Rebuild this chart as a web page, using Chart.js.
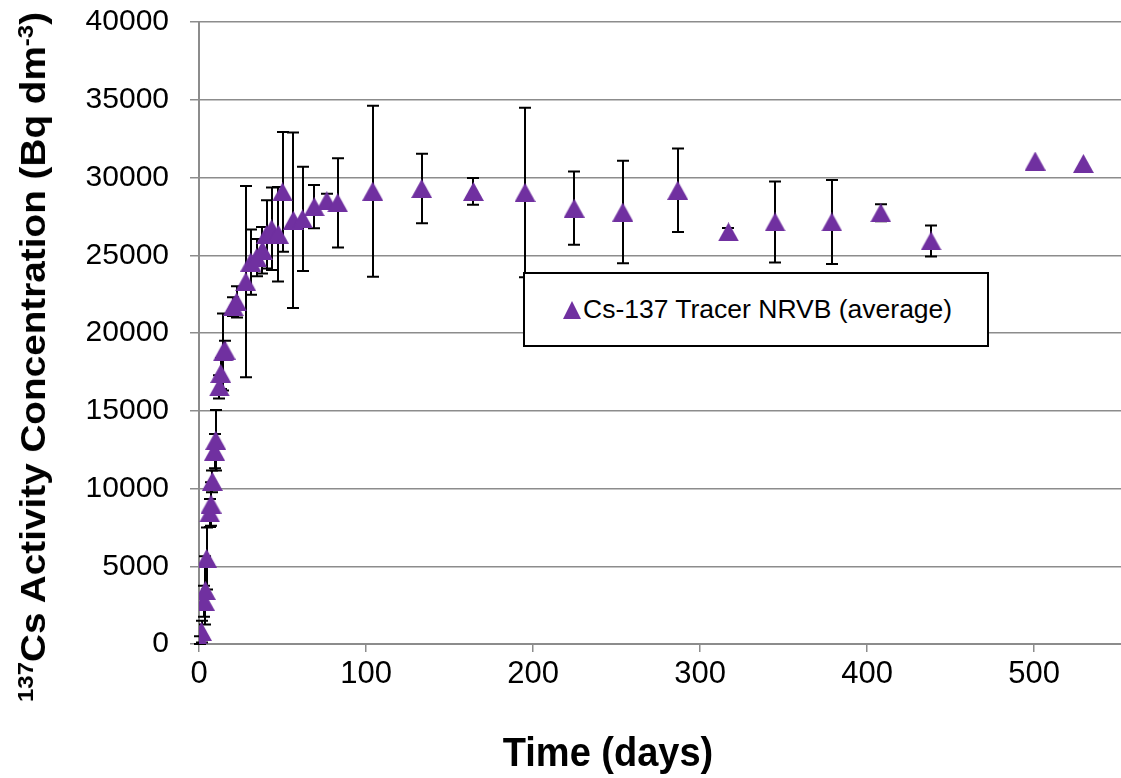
<!DOCTYPE html>
<html>
<head>
<meta charset="utf-8">
<script src="https://cdn.jsdelivr.net/npm/chart.js@4.4.1/dist/chart.umd.min.js"></script>
<style>
    body { margin: 0; background: #fff; }
    #wrap { position: relative; width: 1121px; height: 778px; overflow: hidden; }
    #y-title {
        position: absolute; left: 33px; top: 357px;
        font: bold 35px "Liberation Sans", Arial, sans-serif;
        white-space: nowrap; transform-origin: center center;
    }
    #y-title sup { font-size: 0.62em; vertical-align: 0.55em; line-height: 0; }
    #x-title {
        position: absolute; left: 608px; top: 752px;
        font: bold 40px "Liberation Sans", Arial, sans-serif;
        white-space: nowrap; transform: translate(-50%, -50%) scaleX(0.95);
    }
    #legend {
        position: absolute; left: 523px; top: 272px; width: 466px; height: 75px;
        box-sizing: border-box; border: 2px solid #000; background: #fff;
        display: flex; align-items: center; padding-left: 38px;
        font: 26.5px "Liberation Sans", Arial, sans-serif;
    }
    #legend .marker {
        width: 0; height: 0; margin-right: 2px;
        border-left: 9px solid transparent; border-right: 9px solid transparent;
        border-bottom: 18px solid #7030A0;
    }
</style>
</head>
<body>
<div id="wrap">
    <canvas id="chart" width="1121" height="778"></canvas>
    <div id="y-title"><sup>137</sup>Cs Activity Concentration (Bq dm<sup>-3</sup>)</div>
    <div id="x-title">Time (days)</div>
    <div id="legend"><span class="marker"></span><span>Cs-137 Tracer NRVB (average)</span></div>
</div>
<script>
// time in days, mean activity and error (+/-)
const days = [0, 0.6, 1.5, 3.2, 3.8, 4.6, 6.4, 7.2, 8.0, 9.3, 10.0, 12.2, 13.0, 14.5, 15.6,
    20.5, 22.5, 28.0, 31.0, 34.5, 38.0, 40.5, 43.5, 47.5, 50.0, 56.5, 62.0, 69.0, 76.5, 83.0,
    104.0, 133.3, 164.3, 195.2, 224.6, 253.7, 286.6, 317.0, 344.9, 378.9, 408.2, 438.3, 500.6, 529.5];
const activity = [0, 250, 800, 2750, 3450, 5500, 8430, 9000, 10460, 12400, 13100, 16530, 17400, 18780, 18900,
    21700, 22000, 23300, 24560, 24850, 25320, 26340, 26700, 26350, 29070, 27250, 27340, 28120, 28500, 28370,
    29120, 29290, 29100, 29040, 28030, 27780, 29180, 26500, 27140, 27140, 27730, 25920, 31060, 30900];
const errors = [0, 250, 700, 1000, 2200, 2000, 900, 1400, 700, 1100, 1950, 750, 1000, 2480, 600,
    600, 1000, 6150, 2100, 1200, 1500, 2200, 2650, 3040, 3850, 5650, 3350, 1390, 450, 2870,
    5500, 2230, 860, 5450, 2350, 3300, 2680, 250, 2600, 2700, 550, 1000, 0, 0];

const yTicks = [0, 5000, 10000, 15000, 20000, 25000, 30000, 35000, 40000];
const xTicks = [0, 100, 200, 300, 400, 500];

const purple = '#7030A0';
const gridGrey = '#8c8c8c';

// triangle marker, centred on its bounding box like the original
const marker = document.createElement('canvas');
marker.width = 21;
marker.height = 19;
const mctx = marker.getContext('2d');
mctx.fillStyle = purple;
mctx.beginPath();
mctx.moveTo(10.5, 0);
mctx.lineTo(21, 19);
mctx.lineTo(0, 19);
mctx.closePath();
mctx.fill();

const errorBars = {
    id: 'errorBars',
    beforeDatasetsDraw(chart) {
        const { ctx, scales: { x, y } } = chart;
        ctx.save();
        ctx.strokeStyle = '#000';
        ctx.lineWidth = 2;
        days.forEach((d, i) => {
            if (!errors[i]) return;
            const px = Math.round(x.getPixelForValue(d));
            const top = y.getPixelForValue(activity[i] + errors[i]);
            const bottom = y.getPixelForValue(activity[i] - errors[i]);
            ctx.beginPath();
            ctx.moveTo(px, top);
            ctx.lineTo(px, bottom);
            ctx.moveTo(px - 6, top);
            ctx.lineTo(px + 6, top);
            ctx.moveTo(px - 6, bottom);
            ctx.lineTo(px + 6, bottom);
            ctx.stroke();
        });
        ctx.restore();
    }
};

// stop the tick labels from pushing the plot area in
function noOverflow(scale) {
    scale.paddingTop = 0;
    scale.paddingBottom = 0;
    scale.paddingLeft = 0;
    scale.paddingRight = 0;
}

new Chart(document.getElementById('chart'), {
    type: 'scatter',
    data: {
        datasets: [{
            label: 'Cs-137 Tracer NRVB (average)',
            data: days.map((d, i) => ({ x: d, y: activity[i] })),
            pointStyle: marker,
            pointRadius: 10,
            backgroundColor: purple,
            borderColor: purple
        }]
    },
    options: {
        responsive: false,
        animation: false,
        devicePixelRatio: 1,
        layout: { autoPadding: false, padding: { top: 22, right: 0, left: 0, bottom: 0 } },
        plugins: {
            legend: { display: false },
            tooltip: { enabled: false }
        },
        scales: {
            x: {
                type: 'linear',
                min: 0,
                max: 552,
                afterFit: scale => { scale.height = 134; noOverflow(scale); },
                afterBuildTicks: scale => { scale.ticks = xTicks.map(v => ({ value: v })); },
                grid: { drawOnChartArea: false, color: gridGrey, lineWidth: 1.5, tickLength: 8 },
                border: { color: gridGrey, width: 2 },
                ticks: {
                    color: '#000',
                    padding: 4,
                    callback: v => String(v),
                    font: { family: '"Liberation Sans", Arial', size: 31 }
                }
            },
            y: {
                min: 0,
                max: 40000,
                afterFit: scale => { scale.width = 199; noOverflow(scale); },
                afterBuildTicks: scale => { scale.ticks = yTicks.map(v => ({ value: v })); },
                grid: { color: gridGrey, lineWidth: 1.5, tickLength: 9 },
                border: { color: gridGrey, width: 2 },
                ticks: {
                    color: '#000',
                    padding: 21,
                    callback: v => String(v),
                    font: { family: '"Liberation Sans", Arial', size: 30 }
                }
            }
        }
    },
    plugins: [errorBars]
});

// stretch the rotated y title to the length it has in the reference
const yTitle = document.getElementById('y-title');
const stretch = 690 / yTitle.offsetWidth;
yTitle.style.transform = `translate(-50%, -50%) rotate(-90deg) scaleX(${stretch.toFixed(3)})`;
</script>
</body>
</html>
